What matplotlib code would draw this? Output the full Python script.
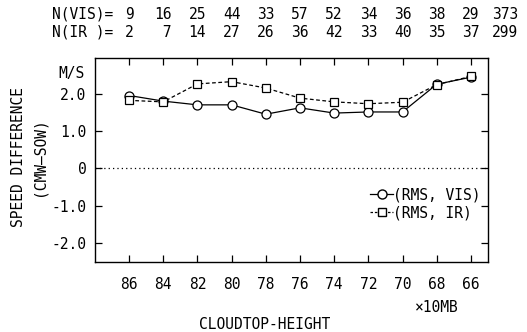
import matplotlib
matplotlib.use("Agg")
import matplotlib.pyplot as plt
import matplotlib.transforms as mtransforms
from matplotlib.lines import Line2D

# ── Data ──────────────────────────────────────────────────────────────────
levels = ["86", "84", "82", "80", "78", "76", "74", "72", "70", "68", "66"]
rms_vis = [1.95, 1.80, 1.70, 1.70, 1.45, 1.62, 1.48, 1.51, 1.51, 2.25, 2.44]
rms_ir = [1.82, 1.78, 2.26, 2.32, 2.15, 1.88, 1.78, 1.73, 1.77, 2.24, 2.46]
n_vis = [9, 16, 25, 44, 33, 57, 52, 34, 36, 38, 29, 373]
n_ir = [2, 7, 14, 27, 26, 36, 42, 33, 40, 35, 37, 299]
yticks = [2.0, 1.0, 0.0, -1.0, -2.0]
ytick_labels = ["2.0", "1.0", "0", "-1.0", "-2.0"]

FONT = "DejaVu Sans Mono"
plt.rcParams.update({
    "font.family": FONT,
    "font.size": 10,
    "axes.linewidth": 1.0,
})

fig = plt.figure(figsize=(5.27, 3.32), dpi=100)
ax = fig.add_axes([0.180, 0.211, 0.746, 0.614])

x = list(range(len(levels)))
ax.plot(x, rms_vis, color="black", lw=0.9, marker="o", ms=6.5,
        mfc="white", mec="black", mew=0.9, zorder=3)
ax.plot(x, rms_ir, color="black", lw=0.9, ls=(0, (3, 2)), marker="s", ms=5.5,
        mfc="white", mec="black", mew=0.9, zorder=3)
ax.axhline(0.0, color="black", lw=0.9, ls=(0, (1, 2.5)))

ax.set_xlim(-1, 10.5)
ax.set_ylim(-2.5, 2.95)
ax.set_xticks(x)
ax.set_xticklabels(levels)
ax.set_yticks(yticks)
ax.set_yticklabels(ytick_labels)
ax.tick_params(direction="in", top=True, right=True, length=5, width=0.9)
ax.tick_params(axis="x", pad=11, labelsize=10.5)
ax.tick_params(axis="y", pad=6, labelsize=10.5)

# sample counts above the frame
trans = mtransforms.blended_transform_factory(ax.transData, ax.transAxes)
ax.text(-0.45, 1.216, "N(VIS)=", transform=trans, ha="right", va="center",
        fontsize=10.5)
ax.text(-0.45, 1.127, "N(IR )=", transform=trans, ha="right", va="center",
        fontsize=10.5)
for i, (a, b) in enumerate(zip(n_vis, n_ir)):
    w = max(len(str(a)), len(str(b)))
    ax.text(i, 1.216, f"{a:>{w}d}", transform=trans, ha="center",
            va="center", fontsize=10.5)
    ax.text(i, 1.127, f"{b:>{w}d}", transform=trans, ha="center",
            va="center", fontsize=10.5)

ax.text(-1.3, 2.55, "M/S", ha="right", va="center", fontsize=10.5,
        clip_on=False)
ax.text(9.0, -0.225, "×10MB", transform=trans, ha="center", va="center",
        fontsize=10.5)
fig.text(0.503, 0.022, "CLOUDTOP-HEIGHT", ha="center", va="center",
         fontsize=10.5)
fig.text(0.036, 0.527, "SPEED DIFFERENCE", rotation=90, ha="center",
         va="center", fontsize=10.5)
fig.text(0.074, 0.527, "(CMW—SOW)", rotation=90, ha="center", va="center",
         fontsize=10.5)

handles = [
    Line2D([], [], color="black", lw=0.9, marker="o", ms=6.5, mfc="white",
           mec="black"),
    Line2D([], [], color="black", lw=0.9, ls=(0, (2, 1.5)), marker="s",
           ms=5.5, mfc="white", mec="black"),
]
ax.legend(handles, ["(RMS, VIS)", "(RMS, IR)"], loc="lower right",
          bbox_to_anchor=(1.0, 0.17), frameon=False, handlelength=1.6,
          handletextpad=0.0, borderaxespad=0.1, labelspacing=0.2,
          fontsize=10.5)

fig.savefig("out.png", dpi=100)
